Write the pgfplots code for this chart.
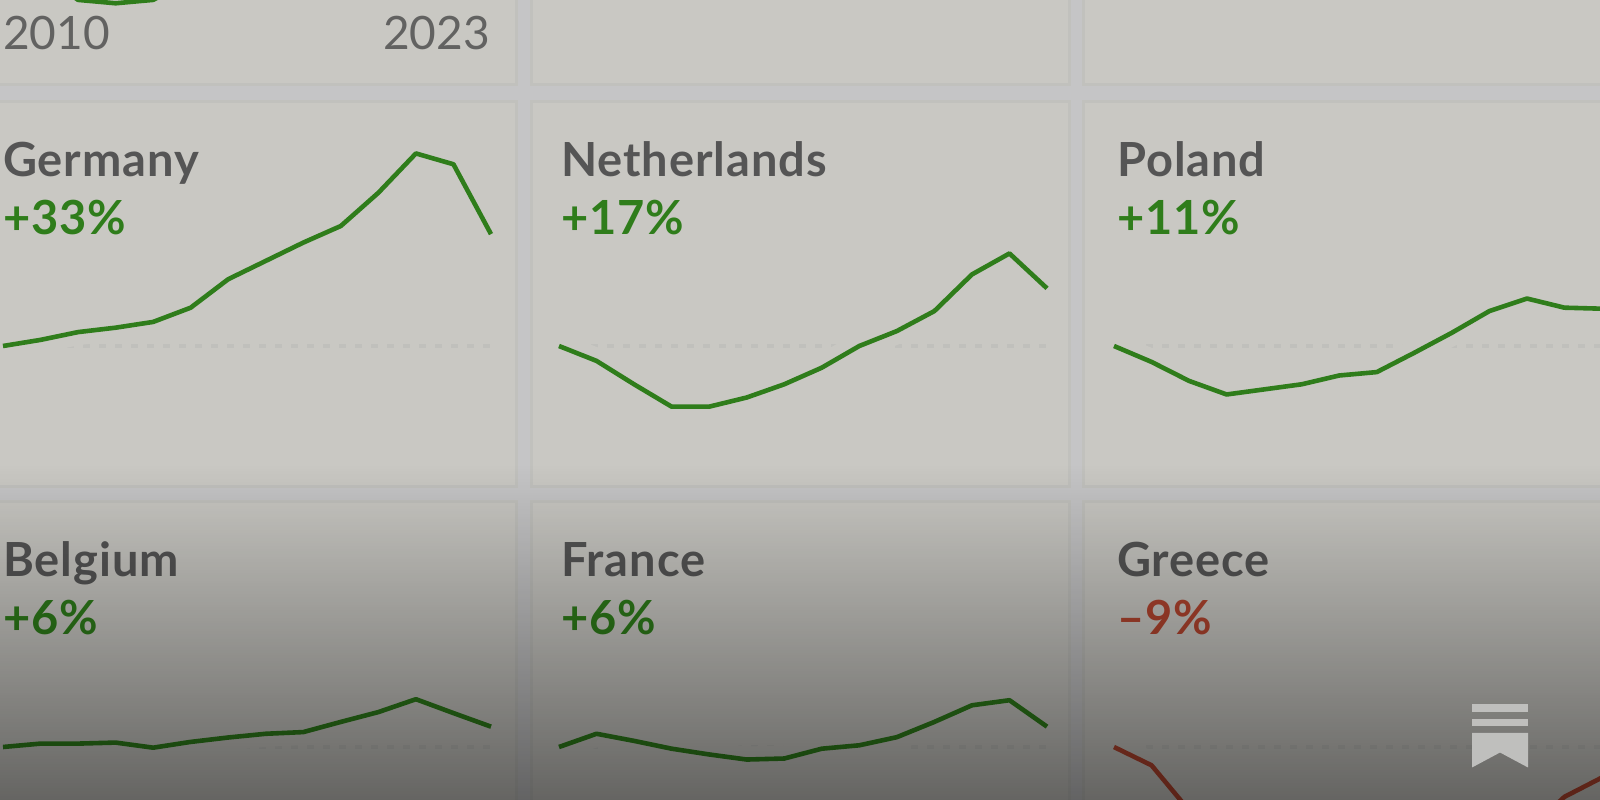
\documentclass[border=0pt]{standalone}
\usepackage{fontspec}
\usepackage{pgfplots}
\usepackage{pgfplotstable}
\pgfplotsset{compat=1.18}
\usetikzlibrary{fadings}
\setmainfont{Lato}
\newfontfamily\cardfont[LetterSpace=2]{Lato}

\definecolor{pagebg}{HTML}{C5C5C6}
\definecolor{cardbg}{HTML}{C9C8C3}
\definecolor{cardedge}{HTML}{C1C1BD}
\definecolor{zeroline}{HTML}{C0C0BC}
\definecolor{upcol}{HTML}{2F7D1B}
\definecolor{downcol}{HTML}{B2452F}
\definecolor{namecol}{HTML}{555555}
\definecolor{yearcol}{HTML}{626261}
\definecolor{logocol}{HTML}{BFBFBD}

% change since 2010, percent
\pgfplotstableread{
year chg
2010 0
2011 1.8
2012 4.1
2013 5.4
2014 7.1
2015 11.3
2016 19.7
2017 25.1
2018 30.5
2019 35.4
2020 45.2
2021 56.8
2022 53.6
2023 33
}\germany
\pgfplotstableread{
year chg
2010 0
2011 -4.4
2012 -11.3
2013 -17.9
2014 -17.9
2015 -15.2
2016 -11.3
2017 -6.4
2018 0
2019 4.4
2020 10.3
2021 21.1
2022 27.3
2023 17
}\netherlands
\pgfplotstableread{
year chg
2010 0
2011 -4.7
2012 -10.3
2013 -14.3
2014 -12.8
2015 -11.3
2016 -8.7
2017 -7.7
2018 -2
2019 3.9
2020 10.3
2021 14
2022 11.3
2023 11
}\poland
\pgfplotstableread{
year chg
2010 0
2011 1
2012 1
2013 1.3
2014 -0.2
2015 1.5
2016 2.8
2017 3.9
2018 4.4
2019 7.4
2020 10.3
2021 14.1
2022 10
2023 6
}\belgium
\pgfplotstableread{
year chg
2010 0
2011 3.9
2012 1.8
2013 -0.5
2014 -2.2
2015 -3.7
2016 -3.4
2017 -0.5
2018 0.5
2019 2.9
2020 7.4
2021 12.3
2022 13.8
2023 6
}\france
\pgfplotstableread{
year chg
2010 0
2011 -5.4
2012 -18.7
2013 -26
2014 -30
2015 -32
2016 -33
2017 -33
2018 -32
2019 -30
2020 -35
2021 -25
2022 -14.7
2023 -9
}\greece
% only the bottom of this one shows, at the top edge
\pgfplotstableread{
year chg
2011 -8
2012 -15.9
2013 -16.9
2014 -15.9
2015 -10
}\topleft

\tikzfading[name=bottomdark, top color=transparent!100, bottom color=transparent!49]

% #1 left px, #2 zero line px from top, #3 table, #4 colour
\newcommand{\panel}[4]{%
  \pgfmathsetlengthmacro{\panely}{800pt-#2pt-101.7pt}%
  \begin{axis}[at={(#1pt,\panely)}, anchor=south west, hide axis, scale only axis,
      width=488pt, height=339pt, xmin=2010, xmax=2023, ymin=-30, ymax=70, clip=false]
    \addplot[zeroline, line width=4pt, dash pattern=on 7pt off 9pt, forget plot]
      coordinates {(2010,0) (2023,0)};
    \addplot[cardbg, line width=26pt, line join=round, forget plot] table[x=year,y=chg] {#3};
    \addplot[#4, line width=4.6pt, line join=round] table[x=year,y=chg] {#3};
  \end{axis}%
}
% #1 left px, #2 baseline px from top of the name, #3 name, #4 colour, #5 value
\newcommand{\cardtext}[5]{%
  \node[anchor=base west, inner sep=0pt, text=namecol, font=\cardfont\fontsize{47}{47}\selectfont\bfseries]
    at (#1,800-#2) {#3};
  \node[anchor=base west, inner sep=0pt, text=#4, font=\cardfont\fontsize{47}{47}\selectfont\bfseries]
    at (#1,800-#2-58) {#5};
}

\begin{document}
\begin{tikzpicture}[x=1pt,y=1pt]
  \path[use as bounding box] (0,0) rectangle (1600,800);
  \clip (0,0) rectangle (1600,800);
  \fill[pagebg] (0,0) rectangle (1600,800);

  % cards
  \foreach \xa/\xb in {-20/516, 531/1069, 1083/1620}{
    \foreach \ya/\yb in {-20/85, 102/487, 502/820}{
      \filldraw[fill=cardbg, draw=cardedge, line width=3pt]
        (\xa,800-\ya) rectangle (\xb,800-\yb);
    }
  }

  \panel{3}{-54}{\topleft}{upcol}
  \panel{3}{346}{\germany}{upcol}
  \panel{559}{346}{\netherlands}{upcol}
  \panel{1114}{346}{\poland}{upcol}
  \panel{3}{747}{\belgium}{upcol}
  \panel{559}{747}{\france}{upcol}
  \panel{1114}{747}{\greece}{downcol}

  \node[anchor=base west, inner sep=0pt, text=yearcol, font=\fontsize{46}{46}\selectfont] at (3,750) {2010};
  \node[anchor=base east, inner sep=0pt, text=yearcol, font=\fontsize{46}{46}\selectfont] at (490,750) {2023};

  \cardtext{3}{177}{Germany}{upcol}{+33\%}
  \cardtext{561}{177}{Netherlands}{upcol}{+17\%}
  \cardtext{1117}{177}{Poland}{upcol}{+11\%}
  \cardtext{3}{577}{Belgium}{upcol}{+6\%}
  \cardtext{561}{577}{France}{upcol}{+6\%}
  \cardtext{1117}{577}{Greece}{downcol}{–9\%}

  % dark gradient over the bottom, wider than the page so its edges do not show
  \fill[black, path fading=bottomdark] (-20,-10) rectangle (1620,335);

  % logo
  \fill[logocol] (1472,96) rectangle (1528,88);
  \fill[logocol] (1472,81) rectangle (1528,74);
  \fill[logocol] (1472,67) -- (1528,67) -- (1528,32.5) -- (1500,47.5) -- (1472,32.5) -- cycle;
\end{tikzpicture}
\end{document}
